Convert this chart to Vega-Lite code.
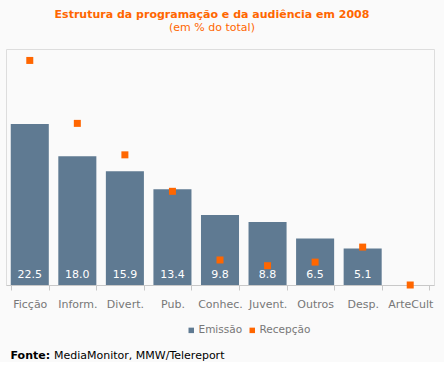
{
  "$schema": "https://vega.github.io/schema/vega-lite/v6.json",
  "background": "#fafafa",
  "padding": {"left": 5, "right": 10, "top": 8, "bottom": 0},
  "title": {
    "text": "Estrutura da programação e da audiência em 2008",
    "subtitle": "(em % do total)",
    "color": "#ff6600",
    "subtitleColor": "#ff6600",
    "font": "DejaVu Sans",
    "subtitleFont": "DejaVu Sans",
    "fontSize": 11,
    "subtitleFontSize": 11,
    "fontWeight": "bold",
    "subtitleFontWeight": "normal",
    "anchor": "middle",
    "offset": 16,
    "subtitlePadding": 2,
    "dx": -8
  },
  "resolve": {"legend": {"color": "independent"}},
  "vconcat": [
    {
      "width": 428,
      "height": 236,
      "data": {
        "values": [
          {"cat": "Ficção", "emissao": 22.5, "recepcao": 31.4},
          {"cat": "Inform.", "emissao": 18.0, "recepcao": 22.6},
          {"cat": "Divert.", "emissao": 15.9, "recepcao": 18.2},
          {"cat": "Pub.", "emissao": 13.4, "recepcao": 13.1},
          {"cat": "Conhec.", "emissao": 9.8, "recepcao": 3.5},
          {"cat": "Juvent.", "emissao": 8.8, "recepcao": 2.7},
          {"cat": "Outros", "emissao": 6.5, "recepcao": 3.2},
          {"cat": "Desp.", "emissao": 5.1, "recepcao": 5.3},
          {"cat": "ArteCult", "emissao": null, "recepcao": 0.0}
        ]
      },
      "title": {
        "text": "MediaMonitor, MMW/Telereport",
        "orient": "bottom",
        "anchor": "start",
        "frame": "group",
        "color": "#000000",
        "font": "DejaVu Sans",
        "fontSize": 11,
        "fontWeight": "normal",
        "offset": -10,
        "dx": 48
      },
      "encoding": {
        "x": {
          "field": "cat",
          "type": "nominal",
          "sort": null,
          "scale": {"paddingInner": 0.2, "paddingOuter": 0.1},
          "axis": {
            "title": "Fonte:",
            "titleFont": "DejaVu Sans",
            "titleFontSize": 11,
            "titleFontWeight": "bold",
            "titleColor": "#000000",
            "titleX": 4,
            "titleY": 73,
            "titleAlign": "left",
            "titleBaseline": "alphabetic",
            "titleAnchor": "start",
            "labelAngle": 0,
            "labelFont": "DejaVu Sans",
            "labelFontSize": 11,
            "labelColor": "#777777",
            "labelOverlap": false,
            "labelPadding": 8,
            "domainColor": "#c8c8c8",
            "tickColor": "#c8c8c8",
            "tickBand": "extent",
            "tickSize": 5
          }
        }
      },
      "layer": [
        {
          "mark": {"type": "bar"},
          "encoding": {
            "y": {
              "field": "emissao",
              "type": "quantitative",
              "scale": {"domain": [0, 33], "nice": false},
              "axis": null
            },
            "color": {
              "datum": "Emissão",
              "scale": {"domain": ["Emissão", "Recepção"], "range": ["#5f7a92", "#ff6600"]},
              "legend": {
                "title": null,
                "orient": "none",
                "direction": "horizontal",
                "legendX": 180,
                "legendY": 276,
                "symbolType": "square",
                "symbolSize": 30,
                "symbolStrokeWidth": 0,
                "labelFont": "DejaVu Sans",
                "labelFontSize": 10.5,
                "labelColor": "#777777",
                "labelOffset": 2,
                "columnPadding": 4
              }
            }
          }
        },
        {
          "transform": [{"filter": {"field": "emissao", "valid": true}}],
          "mark": {"type": "text", "color": "#ffffff", "baseline": "alphabetic", "dy": -7, "fontSize": 11, "font": "DejaVu Sans"},
          "encoding": {
            "y": {"datum": 0, "type": "quantitative"},
            "text": {"field": "emissao", "type": "quantitative", "format": ".1f"}
          }
        },
        {
          "mark": {"type": "point", "shape": "square", "filled": true, "size": 49, "opacity": 1},
          "encoding": {
            "y": {"field": "recepcao", "type": "quantitative"},
            "color": {"datum": "Recepção"}
          }
        }
      ]
    }
  ]
}
